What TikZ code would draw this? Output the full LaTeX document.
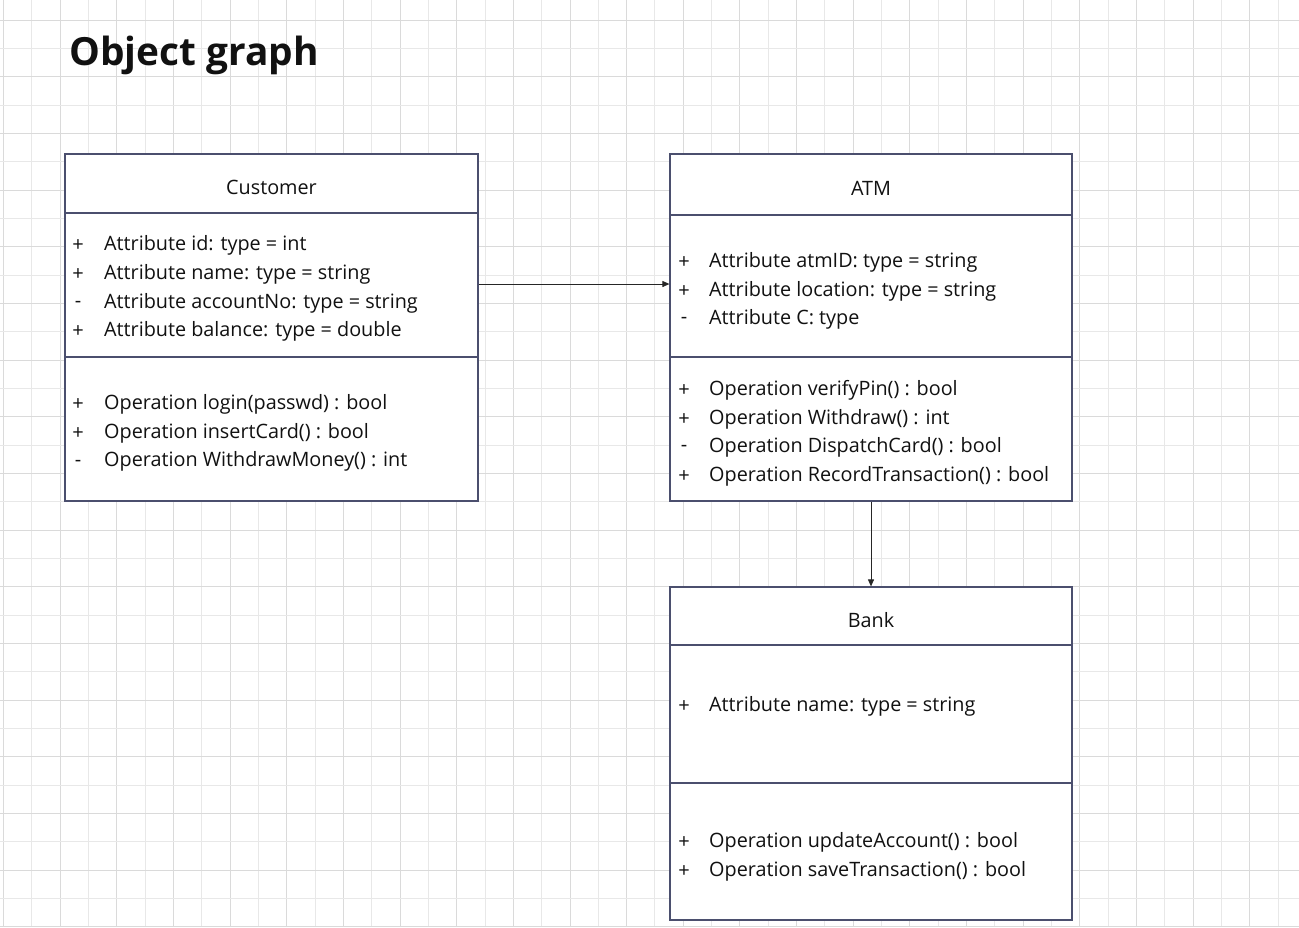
\documentclass[tikz,border=0pt]{standalone}
\usepackage{fontspec}
\setmainfont{Open Sans}
\usetikzlibrary{arrows.meta}
\definecolor{gridc}{HTML}{DADADA}
\definecolor{gridl}{HTML}{E8E8E8}
\definecolor{boxc}{HTML}{4B4F6E}
\definecolor{txt}{HTML}{111111}
\tikzset{
  umlbox/.style={draw=boxc, line width=1.2pt, fill=white, inner sep=0pt, minimum width=#1},
  divider/.style={draw=boxc, line width=1.6pt},
  rowtext/.style={anchor=west, inner sep=0pt, text=txt, font=\fontsize{19.8}{23}\selectfont},
  sign/.style={anchor=center, inner sep=0pt, text=txt, font=\fontsize{20}{23}\selectfont},
  header/.style={anchor=center, inner sep=0pt, text=txt, font=\fontsize{19.8}{23}\selectfont},
  conn/.style={draw=black!85, line width=0.9pt, -{Triangle[length=7pt,width=6pt]}},
}
\begin{document}
\begin{tikzpicture}[x=1pt,y=-1pt]
\useasboundingbox (0,0) rectangle (1299,927);
\fill[white] (0,0) rectangle (1299,927);
% grid
\foreach \i in {0,...,46}{
  \pgfmathsetmacro{\xx}{3.3+28.33*\i}
  \pgfmathtruncatemacro{\odd}{mod(\i,2)}
  \ifnum\odd=0 \draw[gridc,line width=0.8pt] (\xx,0) -- (\xx,927);
  \else \draw[gridl,line width=0.8pt] (\xx,0) -- (\xx,927); \fi
}
\foreach \j in {1,...,33}{
  \pgfmathsetmacro{\yy}{-8.3+28.33*\j}
  \pgfmathtruncatemacro{\odd}{mod(\j,2)}
  \ifnum\odd=1 \draw[gridc,line width=0.8pt] (0,\yy) -- (1299,\yy);
  \else \draw[gridl,line width=0.8pt] (0,\yy) -- (1299,\yy); \fi
}
% title
\node[anchor=west, inner sep=0pt, text=txt, font=\fontsize{38.8}{42}\bfseries] (title) at (69,55) {Object graph};

% boxes
\node[umlbox=413pt, minimum height=347pt] (cust) at (271.5,327.5) {};
\node[umlbox=402pt, minimum height=347pt] (atm) at (871,327.5) {};
\node[umlbox=402pt, minimum height=333pt] (bank) at (871,753.5) {};

% dividers
\draw[divider] (cust.west |- 0,213) -- (cust.east |- 0,213);
\draw[divider] (cust.west |- 0,357) -- (cust.east |- 0,357);
\draw[divider] (atm.west |- 0,215) -- (atm.east |- 0,215);
\draw[divider] (atm.west |- 0,357) -- (atm.east |- 0,357);
\draw[divider] (bank.west |- 0,645) -- (bank.east |- 0,645);
\draw[divider] (bank.west |- 0,783) -- (bank.east |- 0,783);

% Customer
\node[header] (custH) at (271.5,187) {Customer};
\node[sign] (cs1) at (78,246) {+};
\node[rowtext] (ca1) at (104,245) {Attribute id: type = int};
\node[sign] (cs2) at (78,275) {+};
\node[rowtext] (ca2) at (104,274) {Attribute name: type = string};
\node[sign] (cs3) at (78,304) {-};
\node[rowtext] (ca3) at (104,303) {Attribute accountNo: type = string};
\node[sign] (cs4) at (78,332) {+};
\node[rowtext] (ca4) at (104,331) {Attribute balance: type = double};
\node[sign] (cs5) at (78,405) {+};
\node[rowtext] (co1) at (104,404) {Operation login(passwd) : bool};
\node[sign] (cs6) at (78,434) {+};
\node[rowtext] (co2) at (104,433) {Operation insertCard() : bool};
\node[sign] (cs7) at (78,463) {-};
\node[rowtext] (co3) at (104,461) {Operation WithdrawMoney() : int};

% ATM
\node[header] (atmH) at (871,188) {ATM};
\node[sign] (as1) at (684,263) {+};
\node[rowtext] (aa1) at (709,262) {Attribute atmID: type = string};
\node[sign] (as2) at (684,292) {+};
\node[rowtext] (aa2) at (709,291) {Attribute location: type = string};
\node[sign] (as3) at (684,320) {-};
\node[rowtext] (aa3) at (709,319) {Attribute C: type};
\node[sign] (as4) at (684,391) {+};
\node[rowtext] (ao1) at (709,390) {Operation verifyPin() : bool};
\node[sign] (as5) at (684,420) {+};
\node[rowtext] (ao2) at (709,419) {Operation Withdraw() : int};
\node[sign] (as6) at (684,448) {-};
\node[rowtext] (ao3) at (709,447) {Operation DispatchCard() : bool};
\node[sign] (as7) at (684,477) {+};
\node[rowtext] (ao4) at (709,476) {Operation RecordTransaction() : bool};

% Bank
\node[header] (bankH) at (871,620) {Bank};
\node[sign] (bs1) at (684,707) {+};
\node[rowtext] (ba1) at (709,706) {Attribute name: type = string};
\node[sign] (bs2) at (684,843) {+};
\node[rowtext] (bo1) at (709,842) {Operation updateAccount() : bool};
\node[sign] (bs3) at (684,872) {+};
\node[rowtext] (bo2) at (709,871) {Operation saveTransaction() : bool};

% connectors
\coordinate (lnk) at (0,284);
\draw[conn] (cust.east |- lnk) -- (atm.west |- lnk);
\draw[conn] (atm.south) -- (bank.north);
\end{tikzpicture}
\end{document}
